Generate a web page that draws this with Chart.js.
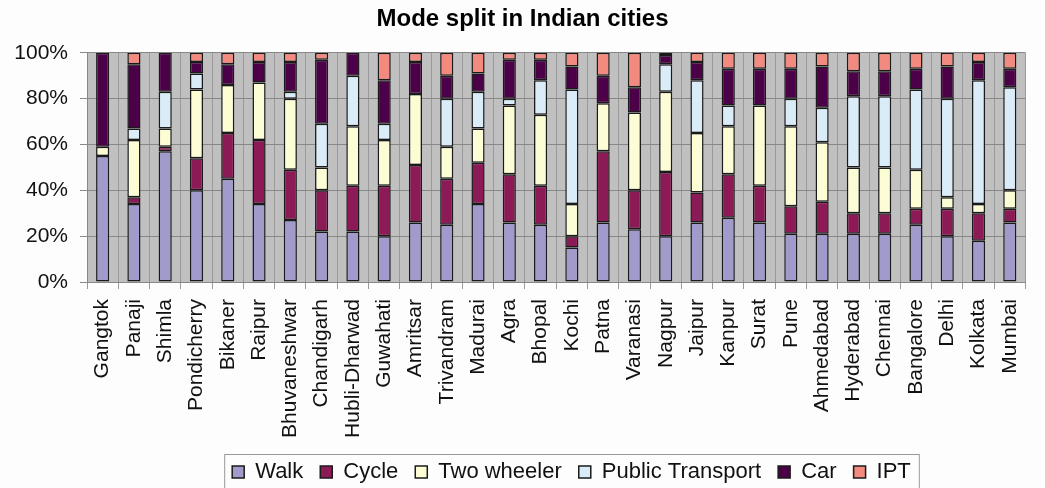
<!DOCTYPE html>
<html>
<head>
<meta charset="utf-8">
<script src="https://cdn.jsdelivr.net/npm/chart.js@4"></script>
<style>
  html, body { margin: 0; padding: 0; background: #fdfdfd; }
  #wrap { width: 1045px; height: 488px; }
</style>
</head>
<body>
<div id="wrap"><canvas id="chart1" width="1045" height="488"></canvas></div>
<script>
// ciudades y reparto modal (% de viajes)
const cities = ['Gangtok', 'Panaji', 'Shimla', 'Pondicherry', 'Bikaner', 'Raipur', 'Bhuvaneshwar',
  'Chandigarh', 'Hubli-Dharwad', 'Guwahati', 'Amritsar', 'Trivandram', 'Madurai', 'Agra', 'Bhopal',
  'Kochi', 'Patna', 'Varanasi', 'Nagpur', 'Jaipur', 'Kanpur', 'Surat', 'Pune', 'Ahmedabad',
  'Hyderabad', 'Chennai', 'Bangalore', 'Delhi', 'Kolkata', 'Mumbai'];

const walk     = [55, 34, 57, 40, 45, 34, 27, 22, 22, 20, 26, 25, 34, 26, 25, 15, 26, 23, 20, 26, 28, 26, 21, 21, 21, 21, 25, 20, 18, 26];
const cycle    = [0, 3, 2, 14, 20, 28, 22, 18, 20, 22, 25, 20, 18, 21, 17, 5, 31, 17, 28, 13, 19, 16, 12, 14, 9, 9, 7, 12, 12, 6];
const twoWheel = [4, 25, 8, 30, 21, 25, 31, 10, 26, 20, 31, 14, 15, 30, 31, 14, 21, 34, 35, 26, 21, 35, 35, 26, 20, 20, 17, 5, 4, 8];
const publicTr = [0, 5, 16, 7, 0, 0, 3, 19, 22, 7, 0, 21, 16, 3, 15, 50, 0, 0, 12, 23, 9, 0, 12, 15, 31, 31, 35, 43, 54, 45];
const car      = [41, 28, 17, 5, 9, 9, 13, 28, 10, 19, 14, 10, 8, 17, 9, 10, 12, 11, 4, 8, 16, 16, 13, 18, 11, 11, 9, 14, 8, 8];
const ipt      = [0, 5, 0, 4, 5, 4, 4, 3, 0, 12, 4, 10, 9, 3, 3, 6, 10, 15, 1, 4, 7, 7, 7, 6, 8, 8, 7, 6, 4, 7];

const yTicks = [0, 20, 40, 60, 80, 100];

const FONT = "'Liberation Sans', Arial, sans-serif";

// fondo gris del área de trazado
const plotBg = {
  id: 'plotBg',
  beforeDraw(chart) {
    const { ctx, chartArea: a } = chart;
    ctx.save();
    ctx.fillStyle = '#c0c0c0';
    ctx.fillRect(a.left, a.top, a.right - a.left, a.bottom - a.top);
    ctx.restore();
  }
};

// la leyenda del original está desplazada a la derecha y algo más abajo
const legendShift = {
  id: 'legendShift',
  afterLayout(chart) {
    const l = chart.legend;
    l.left += 49; l.right += 49;
    l.top += 5; l.bottom += 5;
  }
};

// marco alrededor de la leyenda
const legendFrame = {
  id: 'legendFrame',
  afterDraw(chart) {
    const boxes = chart.legend.legendHitBoxes;
    if (!boxes || !boxes.length) return;
    const left = Math.min(...boxes.map(b => b.left)) - 8;
    const right = Math.max(...boxes.map(b => b.left + b.width)) + 8;
    const top = Math.min(...boxes.map(b => b.top)) - 7;
    const ctx = chart.ctx;
    ctx.save();
    ctx.strokeStyle = '#999';
    ctx.lineWidth = 1;
    ctx.strokeRect(left + 0.5, top + 0.5, right - left, chart.height - top);
    ctx.restore();
  }
};

function serie(label, data, color) {
  return {
    label: label,
    data: data,
    backgroundColor: color,
    borderColor: '#1a1a1a',
    borderWidth: 1.5,
    borderSkipped: false,
    barPercentage: 0.42,
    categoryPercentage: 1.0
  };
}

const ctx1 = document.getElementById('chart1').getContext('2d');
new Chart(ctx1, {
  type: 'bar',
  data: {
    labels: cities,
    datasets: [
      serie('Walk', walk, '#a09bcb'),
      serie('Cycle', cycle, '#8b1a56'),
      serie('Two wheeler', twoWheel, '#fdfdd5'),
      serie('Public Transport', publicTr, '#daecf7'),
      serie('Car', car, '#4c0047'),
      serie('IPT', ipt, '#f28a80')
    ]
  },
  options: {
    responsive: false,
    animation: false,
    layout: { padding: { left: 0, right: 0, top: 0, bottom: 0 } },
    plugins: {
      title: {
        display: true,
        text: 'Mode split in Indian cities',
        color: '#000',
        font: { family: FONT, size: 24, weight: 'bold' },
        padding: { top: 5, bottom: 19 }
      },
      legend: {
        position: 'bottom',
        labels: {
          color: '#111',
          font: { family: FONT, size: 22 },
          boxWidth: 12,
          boxHeight: 12,
          padding: 17
        }
      },
      tooltip: { enabled: false }
    },
    scales: {
      x: {
        stacked: true,
        grid: { color: '#9a9a9a', tickLength: 7, offset: true },
        border: { color: '#888' },
        ticks: {
          color: '#111',
          font: { family: FONT, size: 21 },
          minRotation: 90,
          maxRotation: 90,
          autoSkip: false,
          padding: 10
        },
        afterFit(s) { s.height = 157; }
      },
      y: {
        stacked: true,
        min: 0,
        max: 100,
        afterBuildTicks(s) { s.ticks = yTicks.map(v => ({ value: v })); },
        grid: { color: '#888', tickLength: 7 },
        border: { color: '#888' },
        ticks: {
          color: '#111',
          font: { family: FONT, size: 21 },
          padding: 12,
          callback: v => v + '%'
        },
        afterFit(s) { s.width = 87; }
      }
    }
  },
  plugins: [plotBg, legendShift, legendFrame]
});
</script>
</body>
</html>
